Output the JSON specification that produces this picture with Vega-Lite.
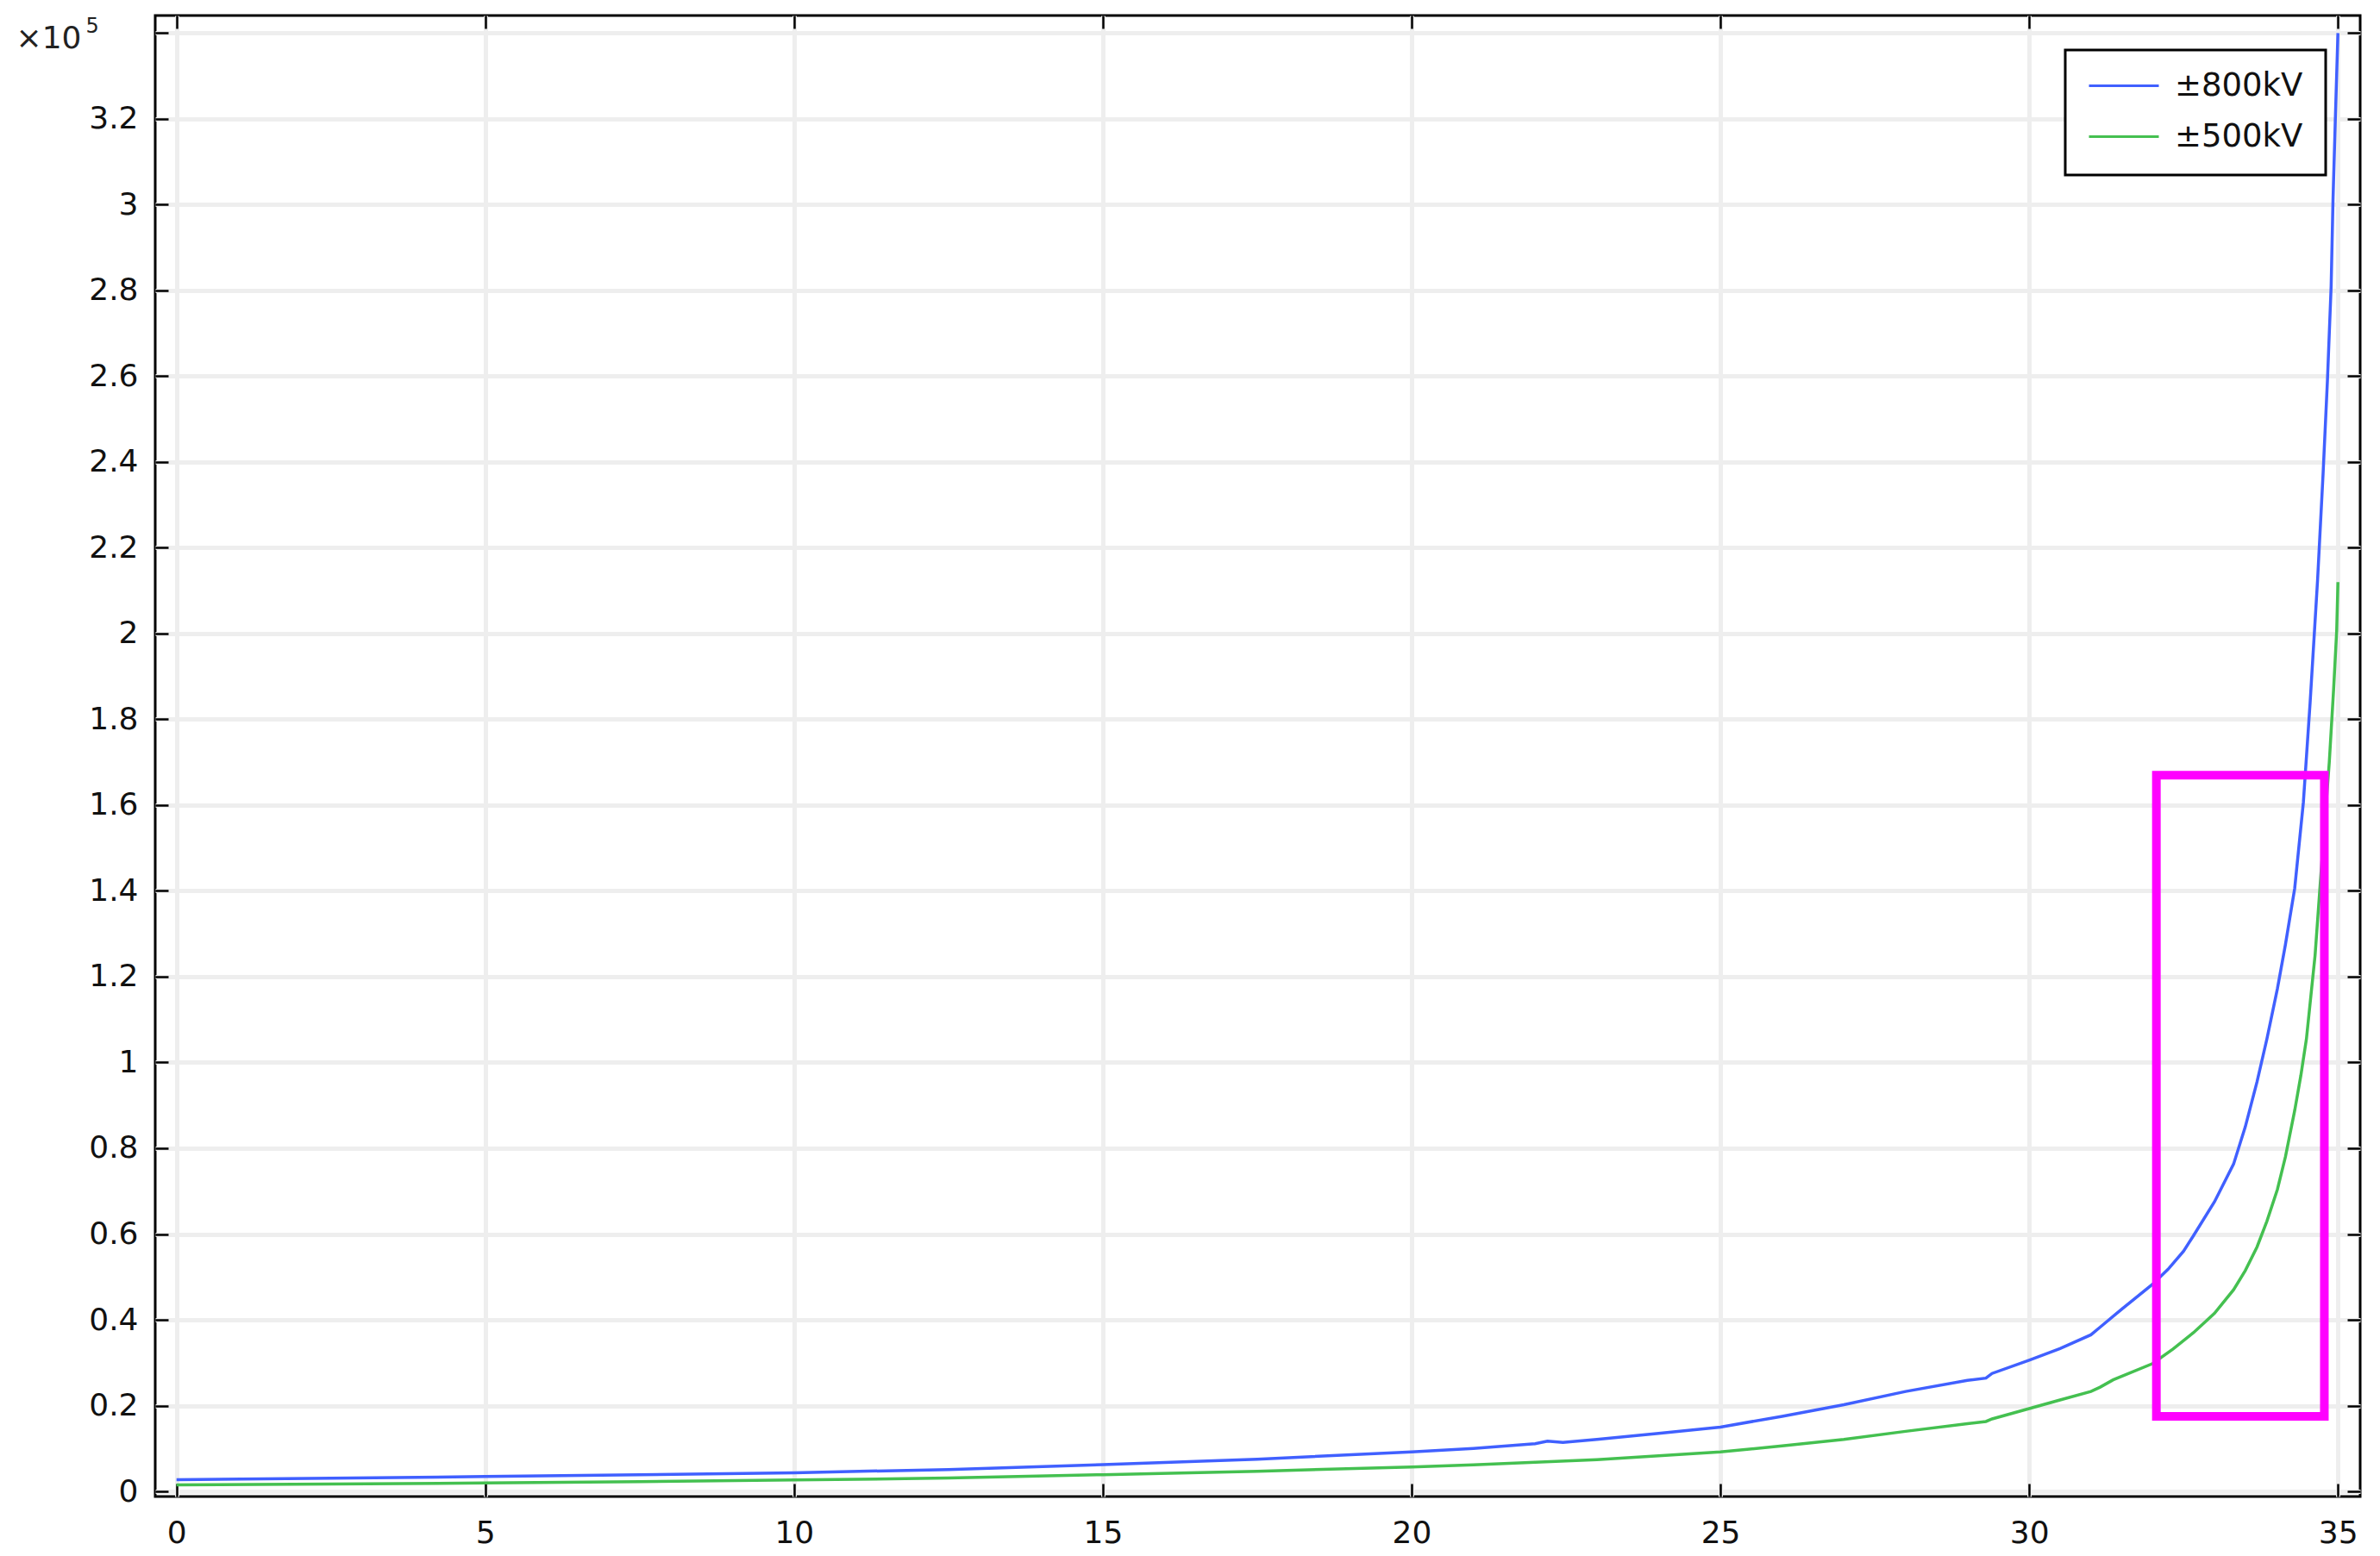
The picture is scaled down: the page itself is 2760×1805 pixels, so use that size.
{
  "$schema": "https://vega.github.io/schema/vega-lite/v6.json",
  "width": 2557,
  "height": 1718,
  "autosize": {"type": "none"},
  "padding": {"left": 180, "top": 18, "right": 23, "bottom": 69},
  "background": "white",
  "config": {
    "view": {"stroke": "black", "strokeWidth": 3},
    "font": "DejaVu Sans",
    "axis": {
      "domain": false,
      "labelFont": "DejaVu Sans",
      "labelFontSize": 36,
      "labelColor": "#111111",
      "tickColor": "black",
      "tickWidth": 2.5,
      "tickSize": -15,
      "gridColor": "#eeeeee",
      "gridWidth": 5,
      "labelFlush": false,
      "labelOverlap": false,
      "labelBound": false
    },
    "legend": {
      "orient": "top-right",
      "offset": 40,
      "padding": 26,
      "strokeColor": "black",
      "strokeWidth": 3,
      "fillColor": "white",
      "symbolType": "stroke",
      "symbolSize": 6561,
      "symbolStrokeWidth": 3,
      "clipHeight": 31,
      "labelFont": "DejaVu Sans",
      "labelFontSize": 37,
      "labelColor": "#111111",
      "labelOffset": 17,
      "rowPadding": 21,
      "cornerRadius": 0
    }
  },
  "datasets": {
    "curves": [
      {"series": "±800kV", "x": 0, "y": 2700},
      {"series": "±800kV", "x": 2.5, "y": 3050},
      {"series": "±800kV", "x": 5, "y": 3450},
      {"series": "±800kV", "x": 7.5, "y": 3850},
      {"series": "±800kV", "x": 10, "y": 4350},
      {"series": "±800kV", "x": 12.5, "y": 5100},
      {"series": "±800kV", "x": 15, "y": 6250},
      {"series": "±800kV", "x": 17.5, "y": 7500},
      {"series": "±800kV", "x": 20, "y": 9200},
      {"series": "±800kV", "x": 21, "y": 10000},
      {"series": "±800kV", "x": 22, "y": 11100},
      {"series": "±800kV", "x": 22.2, "y": 11700},
      {"series": "±800kV", "x": 22.45, "y": 11400},
      {"series": "±800kV", "x": 23, "y": 12100},
      {"series": "±800kV", "x": 24, "y": 13500},
      {"series": "±800kV", "x": 25, "y": 15000},
      {"series": "±800kV", "x": 26, "y": 17500},
      {"series": "±800kV", "x": 27, "y": 20200},
      {"series": "±800kV", "x": 28, "y": 23300},
      {"series": "±800kV", "x": 29, "y": 25900},
      {"series": "±800kV", "x": 29.3, "y": 26400},
      {"series": "±800kV", "x": 29.4, "y": 27500},
      {"series": "±800kV", "x": 30, "y": 30600},
      {"series": "±800kV", "x": 30.5, "y": 33300},
      {"series": "±800kV", "x": 31, "y": 36500},
      {"series": "±800kV", "x": 31.15, "y": 38300},
      {"series": "±800kV", "x": 31.5, "y": 42500},
      {"series": "±800kV", "x": 32, "y": 48300},
      {"series": "±800kV", "x": 32.25, "y": 51800},
      {"series": "±800kV", "x": 32.5, "y": 56000},
      {"series": "±800kV", "x": 32.66, "y": 59600},
      {"series": "±800kV", "x": 33, "y": 67500},
      {"series": "±800kV", "x": 33.31, "y": 76300},
      {"series": "±800kV", "x": 33.5, "y": 85000},
      {"series": "±800kV", "x": 33.69, "y": 95500},
      {"series": "±800kV", "x": 33.85, "y": 105500},
      {"series": "±800kV", "x": 34.02, "y": 117200},
      {"series": "±800kV", "x": 34.15, "y": 127500},
      {"series": "±800kV", "x": 34.3, "y": 140600},
      {"series": "±800kV", "x": 34.44, "y": 160600},
      {"series": "±800kV", "x": 34.55, "y": 184000},
      {"series": "±800kV", "x": 34.67, "y": 212400},
      {"series": "±800kV", "x": 34.76, "y": 237400},
      {"series": "±800kV", "x": 34.83, "y": 259000},
      {"series": "±800kV", "x": 34.89, "y": 281000},
      {"series": "±800kV", "x": 34.92, "y": 301000},
      {"series": "±800kV", "x": 34.96, "y": 321000},
      {"series": "±800kV", "x": 35.0, "y": 340000},
      {"series": "±500kV", "x": 0, "y": 1500},
      {"series": "±500kV", "x": 2.5, "y": 1700},
      {"series": "±500kV", "x": 5, "y": 1950},
      {"series": "±500kV", "x": 7.5, "y": 2250},
      {"series": "±500kV", "x": 10, "y": 2650},
      {"series": "±500kV", "x": 12.5, "y": 3100},
      {"series": "±500kV", "x": 15, "y": 3900},
      {"series": "±500kV", "x": 17.5, "y": 4700},
      {"series": "±500kV", "x": 20, "y": 5700},
      {"series": "±500kV", "x": 21, "y": 6200},
      {"series": "±500kV", "x": 22, "y": 6800},
      {"series": "±500kV", "x": 23, "y": 7400},
      {"series": "±500kV", "x": 24, "y": 8300},
      {"series": "±500kV", "x": 25, "y": 9200},
      {"series": "±500kV", "x": 26, "y": 10600},
      {"series": "±500kV", "x": 27, "y": 12100},
      {"series": "±500kV", "x": 28, "y": 14000},
      {"series": "±500kV", "x": 29, "y": 15800},
      {"series": "±500kV", "x": 29.3, "y": 16300},
      {"series": "±500kV", "x": 29.4, "y": 16900},
      {"series": "±500kV", "x": 30, "y": 19300},
      {"series": "±500kV", "x": 30.5, "y": 21300},
      {"series": "±500kV", "x": 31, "y": 23300},
      {"series": "±500kV", "x": 31.15, "y": 24300},
      {"series": "±500kV", "x": 31.36, "y": 26000},
      {"series": "±500kV", "x": 32, "y": 29800},
      {"series": "±500kV", "x": 32.33, "y": 33200},
      {"series": "±500kV", "x": 32.66, "y": 37000},
      {"series": "±500kV", "x": 33, "y": 41500},
      {"series": "±500kV", "x": 33.31, "y": 47000},
      {"series": "±500kV", "x": 33.5, "y": 51500},
      {"series": "±500kV", "x": 33.69, "y": 57000},
      {"series": "±500kV", "x": 33.85, "y": 63000},
      {"series": "±500kV", "x": 34.02, "y": 70400},
      {"series": "±500kV", "x": 34.15, "y": 78000},
      {"series": "±500kV", "x": 34.3, "y": 88800},
      {"series": "±500kV", "x": 34.4, "y": 97000},
      {"series": "±500kV", "x": 34.49, "y": 105500},
      {"series": "±500kV", "x": 34.63, "y": 125000},
      {"series": "±500kV", "x": 34.72, "y": 143000},
      {"series": "±500kV", "x": 34.86, "y": 170000},
      {"series": "±500kV", "x": 34.93, "y": 187000},
      {"series": "±500kV", "x": 34.98, "y": 200700},
      {"series": "±500kV", "x": 35.0, "y": 212000}
    ],
    "box": [
      {"x": 32.06, "x2": 34.78, "y": 17500, "y2": 167000}
    ]
  },
  "layer": [
    {
      "data": {"name": "curves"},
      "mark": {"type": "line", "strokeWidth": 3.5},
      "encoding": {
        "x": {
          "field": "x",
          "type": "quantitative",
          "scale": {"domain": [-0.345, 35.36], "nice": false, "zero": false},
          "axis": {
            "orient": "bottom",
            "values": [0, 5, 10, 15, 20, 25, 30, 35],
            "title": null,
            "grid": true,
            "labelPadding": 40
          }
        },
        "y": {
          "field": "y",
          "type": "quantitative",
          "scale": {"domain": [-1200, 344100], "nice": false, "zero": false},
          "axis": {
            "orient": "left",
            "values": [0, 20000, 40000, 60000, 80000, 100000, 120000, 140000, 160000, 180000, 200000, 220000, 240000, 260000, 280000, 300000, 320000, 340000],
            "labelExpr": "datum.value > 330000 ? '' : format(datum.value / 100000, '.1~f')",
            "grid": true,
            "labelPadding": 35,
            "title": "×10",
            "titleAngle": 0,
            "titleAlign": "left",
            "titleBaseline": "alphabetic",
            "titleX": -162,
            "titleY": 37,
            "titleFont": "DejaVu Sans",
            "titleFontSize": 36,
            "titleFontWeight": "normal",
            "titleColor": "#222222"
          }
        },
        "color": {
          "field": "series",
          "type": "nominal",
          "scale": {"domain": ["±800kV", "±500kV"], "range": ["#4060ff", "#44c050"]},
          "legend": {"title": null}
        }
      }
    },
    {
      "data": {"name": "box"},
      "mark": {"type": "rect", "fillOpacity": 0, "stroke": "#ff00ff", "strokeWidth": 10, "strokeJoin": "miter"},
      "encoding": {
        "x": {
          "field": "x",
          "type": "quantitative",
          "scale": {"domain": [-0.345, 35.36], "nice": false, "zero": false},
          "axis": {
            "orient": "top",
            "values": [0, 5, 10, 15, 20, 25, 30, 35],
            "labels": false,
            "grid": false,
            "title": "5",
            "titleAnchor": null,
            "titleAngle": 0,
            "titleAlign": "left",
            "titleBaseline": "alphabetic",
            "titleX": -81,
            "titleY": 19,
            "titleFont": "DejaVu Sans",
            "titleFontSize": 24,
            "titleFontWeight": "normal",
            "titleColor": "#222222"
          }
        },
        "x2": {"field": "x2"},
        "y": {
          "field": "y",
          "type": "quantitative",
          "scale": {"domain": [-1200, 344100], "nice": false, "zero": false},
          "axis": {
            "orient": "right",
            "values": [0, 20000, 40000, 60000, 80000, 100000, 120000, 140000, 160000, 180000, 200000, 220000, 240000, 260000, 280000, 300000, 320000, 340000],
            "labels": false,
            "grid": false,
            "title": null
          }
        },
        "y2": {"field": "y2"}
      }
    }
  ],
  "resolve": {"axis": {"x": "independent", "y": "independent"}}
}
